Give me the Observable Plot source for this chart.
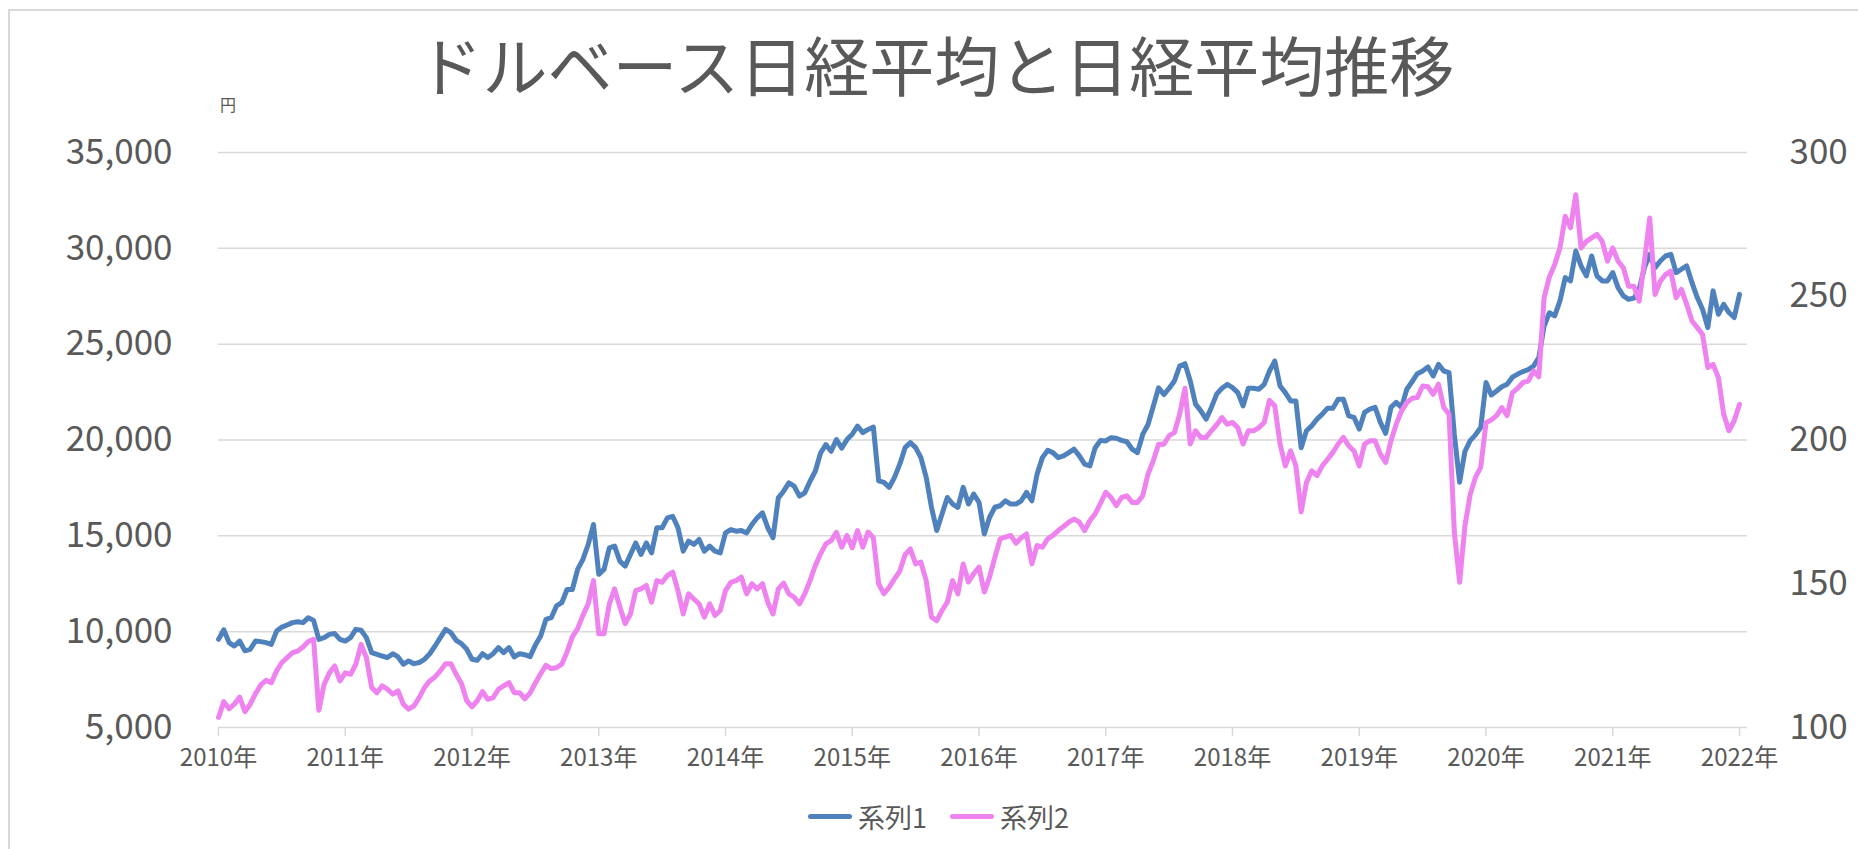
<!DOCTYPE html>
<html>
<head>
<meta charset="utf-8">
<script src="https://cdn.jsdelivr.net/npm/d3@7"></script>
<script src="https://cdn.jsdelivr.net/npm/@observablehq/plot@0.6"></script>
<style>
html, body { margin: 0; padding: 0; background: #fff; overflow: hidden; }
#wrap { position: relative; width: 1858px; height: 849px; font-family: 'Noto Sans CJK JP', sans-serif; color: #595959; }
#frame { position: absolute; left: 8px; top: 9px; width: 1900px; height: 900px; border: 2px solid #d9d9d9; box-sizing: border-box; }
#chart { position: absolute; left: 0; top: 0; }
#title { position: absolute; left: 406px; top: 31px; width: 1060px; text-align: center; font-size: 65px; line-height: 1; white-space: nowrap; color: #595959; }
#unit { position: absolute; left: 220px; top: 96px; font-size: 16px; line-height: 1; color: #595959; }
#legend { position: absolute; left: 808px; top: 803px; height: 27px; display: flex; align-items: center; font-size: 27px; line-height: 1; color: #595959; }
.sw { width: 44px; height: 5px; border-radius: 3px; margin-right: 6px; }
.item { display: flex; align-items: center; margin-right: 23px; }
</style>
</head>
<body>
<div id="wrap">
  <div id="frame"></div>
  <div id="chart"></div>
  <div id="title"></div>
  <div id="unit"></div>
  <div id="legend"></div>
</div>
<script>
// ---- data ----
const chartTitle = "ドルベース日経平均と日経平均推移";
const unitLabel = "円";
const seriesNames = ["系列1", "系列2"];
const seriesColors = ["#4f81bd", "#ee82ee"];
const yearTicks = [2010, 2011, 2012, 2013, 2014, 2015, 2016, 2017, 2018, 2019, 2020, 2021, 2022];
const leftTicks = [5000, 10000, 15000, 20000, 25000, 30000, 35000];
const rightTicks = [100, 150, 200, 250, 300];

// 系列1 (left axis, 円), semi-monthly from 2010
const s1 = [
  9600,10100,9430,9250,9510,9000,9080,9510,9480,9430,9340,10030,10240,10350,10470,10520,10470,10730,10590,9600,9690,9860,9900,9600,
  9510,9690,10120,10070,9690,8910,8820,8730,8650,8850,8680,8300,8470,8330,8390,8560,8850,9250,9690,10120,9950,9550,9375,9080,
  8560,8510,8850,8650,8850,9170,8910,9170,8680,8850,8800,8700,9300,9770,10640,10730,11340,11510,12200,12200,13250,13770,14550,15590,
  12990,13250,14370,14460,13680,13420,14030,14630,14030,14630,14110,15420,15420,15940,16020,15420,14200,14720,14550,14810,14200,14460,14200,14110,
  15150,15330,15240,15280,15150,15590,15940,16200,15420,14900,16980,17330,17760,17590,17070,17240,17850,18370,19320,19760,19410,20020,19580,20020,
  20300,20730,20380,20550,20670,17870,17790,17530,18050,18740,19600,19860,19600,19080,18050,16490,15280,16140,17000,16660,16490,17530,16660,17180,
  16750,15100,15970,16490,16570,16830,16660,16660,16830,17270,16830,18220,19080,19460,19340,19080,19170,19340,19520,19170,18740,18650,19600,19980,
  19950,20120,20090,19980,19910,19520,19340,20290,20810,21760,22720,22370,22700,23080,23860,23980,23080,21870,21520,21090,21700,22390,22700,22900,
  22730,22470,21780,22700,22700,22650,22900,23600,24120,22820,22470,22040,22040,19600,20480,20740,21090,21350,21660,21660,22130,22130,21260,21180,
  20570,21440,21610,21700,20920,20350,21700,21960,21700,22650,23040,23460,23600,23810,23340,23950,23600,23510,20300,17800,19400,19970,20270,20650,
  23000,22350,22560,22780,22910,23280,23440,23570,23670,23860,24300,25950,26640,26480,27260,28470,28300,29860,29080,28560,29600,28560,28300,28300,
  28730,27950,27520,27340,27400,27860,28990,29690,28990,29340,29600,29690,28730,28910,29080,28210,27430,26820,25870,27780,26560,27080,26650,26390,
  27600
];

// 系列2 (right axis), semi-monthly from 2010
const s2 = [
  103.5,109,106.5,108.1,110.6,105.5,108.1,111.8,114.8,116.4,115.6,119.7,122.6,124.3,126,126.6,128,129.9,130.7,106,115,119,121.4,116.2,
  119,118.5,122,128.9,124.3,113.9,112.1,114.5,113.3,111.6,112.7,108.1,106.4,107.5,110.4,113.9,116.2,117.6,119.7,122.2,122.2,118.5,115.3,109.3,
  107.2,109.3,112.5,109.8,110.4,113.3,114.5,115.6,112.1,112.1,110,112,115.5,118.7,121.6,120.5,120.8,122,126.3,131.5,134.4,139,143,151.1,
  132.6,132.6,143,148.2,141.9,136.1,139.5,147.6,148.2,149.4,143.6,151.1,150.5,152.9,154,147.6,139.5,146.5,144.7,143,138.4,143,139,140.7,
  147.6,150.5,151.1,152.3,146.5,150,148.2,150,143.6,139.5,148.2,150.2,146.5,145.3,143,146.5,151.1,156.3,160.4,163.9,165,167.9,162.7,166.8,
  162.5,168.5,162.7,168,166,150,146.5,148.8,151.7,154.4,160.1,162.1,156.9,157.5,151.1,138.4,137.2,140.7,143.6,151.1,146.5,156.9,150.6,153.5,
  155.8,147.1,152.3,159.2,165.6,166.2,166.8,164.1,166,167.3,156.9,163.3,162.7,165.6,166.8,168.5,169.9,171.4,172.5,171.4,168.5,172,174.3,178,
  181.8,180,177.2,180,180.6,178.3,178.3,180.6,188.1,192.8,198.5,198.5,201.5,202.6,209,218,198.6,203.2,200.9,200.9,203.2,205.3,207.8,205.5,
  206.1,204.3,198.6,203.2,203.2,204.3,206.1,213.8,211.9,198.6,191,196.2,191,175,185.2,189.3,187.6,191,193.3,195.7,198.6,200.9,198,196.2,
  191,198.6,199.7,199.7,195.1,192.2,199.7,205.5,210.1,213,214.5,214.8,218.8,218.5,215.9,219.4,211.3,209,168,150.5,170,181,187,190.5,
  206,207,208.5,211.3,208.5,216.5,218,220,220.5,224,222,249.5,256.7,261,266.8,277.8,273.8,285.3,266.8,269.1,270.3,271.5,269.1,262.2,
  266.8,262.2,259.9,253.5,253.5,248.3,262.2,277.2,250.6,255.2,257.6,258.7,249.5,252.4,247.2,241.4,239.1,236.7,225.2,226.3,221.7,209,203.2,206.7,
  212.4
];

// ---- chart ----
const toLeft = v => 5000 + (v - 100) * 150;   // right-axis value -> left-axis scale
const toRight = v => 100 + (v - 5000) / 150;
const data = s1.map((v, i) => ({t: 2010 + i / 24, v1: v, v2: s2[i]}));

const chart = Plot.plot({
  width: 1858,
  height: 849,
  marginLeft: 218,
  marginRight: 111,
  marginTop: 152,
  marginBottom: 122,
  style: {fontFamily: "'Noto Sans CJK JP', sans-serif", background: "transparent", color: "#595959", overflow: "visible"},
  x: {domain: [2010, 2022.063]},
  y: {domain: [5000, 35000]},
  marks: [
    Plot.gridY(leftTicks, {stroke: "#d9d9d9", strokeOpacity: 1, strokeWidth: 1.5}),
    Plot.axisX(yearTicks, {tickFormat: d => `${d}年`, tickSize: 9, tickPadding: 12, stroke: "#d9d9d9", strokeWidth: 1.5, fill: "#595959", fontSize: 24, label: null}),
    Plot.axisY(leftTicks, {anchor: "left", tickSize: 0, tickPadding: 46, fontSize: 35, fill: "#595959", tickFormat: d3.format(","), label: null}),
    Plot.axisY(rightTicks.map(toLeft), {anchor: "right", tickSize: 0, tickPadding: 42, fontSize: 35, fill: "#595959", tickFormat: v => String(Math.round(toRight(v))), label: null}),
    Plot.line(data, {x: "t", y: "v1", stroke: seriesColors[0], strokeWidth: 5, strokeLinejoin: "round", strokeLinecap: "round"}),
    Plot.line(data, {x: "t", y: d => toLeft(d.v2), stroke: seriesColors[1], strokeWidth: 5, strokeLinejoin: "round", strokeLinecap: "round"})
  ]
});
document.getElementById("chart").appendChild(chart);
document.getElementById("title").textContent = chartTitle;
document.getElementById("unit").textContent = unitLabel;

const legend = document.getElementById("legend");
seriesNames.forEach((name, i) => {
  const item = document.createElement("div");
  item.className = "item";
  const sw = document.createElement("div");
  sw.className = "sw";
  sw.style.background = seriesColors[i];
  const label = document.createElement("span");
  label.textContent = name;
  item.appendChild(sw);
  item.appendChild(label);
  legend.appendChild(item);
});
</script>
</body>
</html>
